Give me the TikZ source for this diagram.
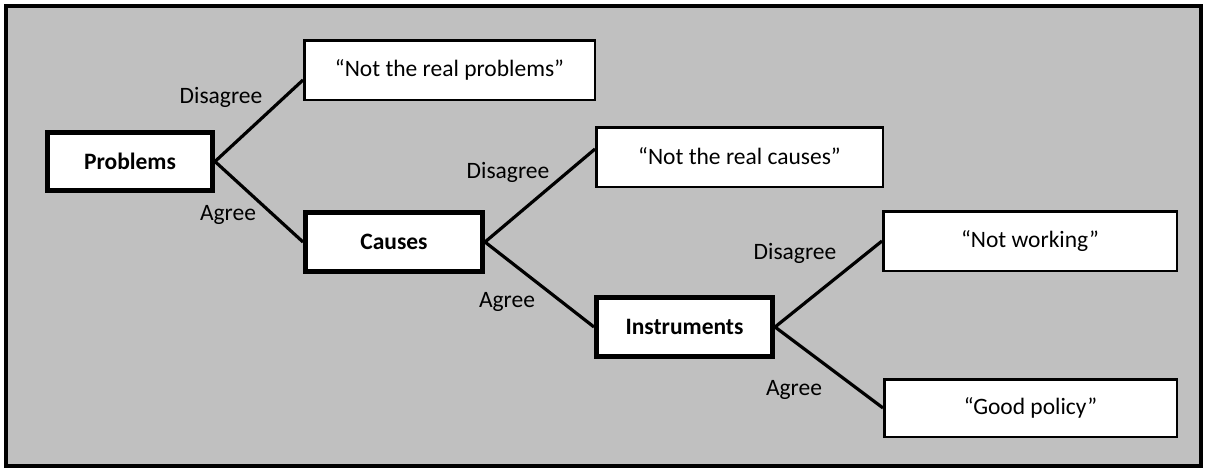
\documentclass[tikz,border=0pt]{standalone}
\usepackage{fontspec}
\setmainfont{Carlito}
\definecolor{bggray}{RGB}{192,192,192}
\newcommand{\diagfont}{\fontsize{23.5}{28}\selectfont}
\tikzset{
  keybox/.style={draw=black, fill=white, line width=5pt, inner sep=0pt, font=\diagfont\bfseries},
  quotebox/.style={draw=black, fill=white, line width=2.5pt, inner sep=0pt, font=\diagfont},
  branch/.style={draw=black, line width=3.2pt},
  lbl/.style={inner sep=0pt, text=black, font=\diagfont}
}
\begin{document}
\begin{tikzpicture}[x=1pt,y=-1pt]
\useasboundingbox (0,0) rectangle (1205,469);
\draw[fill=bggray, line width=4pt] (5.5,5.5) rectangle (1200.5,466);

\node[keybox, minimum width=165pt, minimum height=58pt] (prob) at (130,161.5) {Problems};
\node[keybox, minimum width=177pt, minimum height=59pt] (caus) at (394,242) {Causes};
\node[keybox, minimum width=176pt, minimum height=59pt] (inst) at (684.5,327) {Instruments};

\node[quotebox, minimum width=290.5pt, minimum height=59.5pt] (nrp) at (449.5,70) {\raisebox{2pt}{“Not the real problems”}};
\node[quotebox, minimum width=286.5pt, minimum height=59.5pt] (nrc) at (739.5,157) {\raisebox{2pt}{“Not the real causes”}};
\node[quotebox, minimum width=293.5pt, minimum height=59.5pt] (nw) at (1030,241) {\raisebox{2pt}{“Not working”}};
\node[quotebox, minimum width=292.5pt, minimum height=57.5pt] (gp) at (1030.5,408) {\raisebox{2pt}{“Good policy”}};

\draw[branch] (prob.east) -- ([yshift=-10pt]nrp.west);
\draw[branch] (prob.east) -- (caus.west);
\draw[branch] (caus.east) -- ([yshift=8pt]nrc.west);
\draw[branch] (caus.east) -- (inst.west);
\draw[branch] (inst.east) -- (nw.west);
\draw[branch] (inst.east) -- (gp.west);

\node[lbl] (l1) at (221,97) {Disagree};
\node[lbl] (l2) at (228,215) {Agree};
\node[lbl] (l3) at (508,172) {Disagree};
\node[lbl] (l4) at (507,302) {Agree};
\node[lbl] (l5) at (795,253) {Disagree};
\node[lbl] (l6) at (794,390) {Agree};
\end{tikzpicture}
\end{document}
